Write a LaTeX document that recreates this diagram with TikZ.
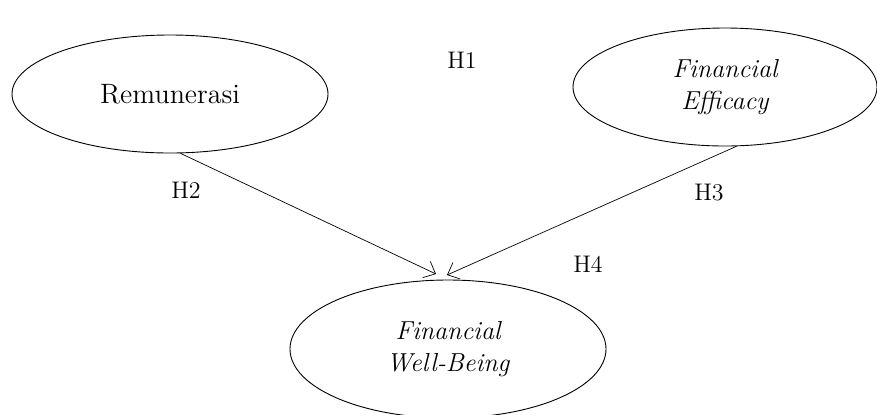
\documentclass[tikz,border=0pt]{standalone}
\usetikzlibrary{shapes.geometric,arrows.meta}
\begin{document}
\begin{tikzpicture}[x=0.5pt,y=-0.5pt,
  construct/.style={draw,ellipse,line width=0.45pt,inner sep=0pt,align=center,
    font=\fontsize{13}{16}\selectfont},
  hyp/.style={font=\fontsize{12}{14}\selectfont,inner sep=0pt},
  path/.style={line width=0.35pt,-{Straight Barb[length=5pt,width=9pt,line width=0.35pt]}}]
\useasboundingbox (0,0) rectangle (877,414);
\node[construct,minimum width=158pt,minimum height=59pt,font=\fontsize{14}{16}\selectfont] (rem) at (170,94) {Remunerasi};
\node[construct,minimum width=152pt,minimum height=59pt] (eff) at (725,87) {\itshape Financial\\\itshape Efficacy};
\node[construct,minimum width=158pt,minimum height=69pt] (wb) at (448,349) {\itshape Financial\\\itshape Well-Being};
\coordinate (tipL) at (436,274);
\coordinate (tipR) at (447,275);
\draw[path] (rem.-80) -- (tipL);
\draw[path] (eff.-79) -- (tipR);
\node[hyp] (h1) at (462,60) {H1};
\node[hyp] (h2) at (186,190) {H2};
\node[hyp] (h3) at (709,193) {H3};
\node[hyp] (h4) at (588,264) {H4};
\end{tikzpicture}
\end{document}
